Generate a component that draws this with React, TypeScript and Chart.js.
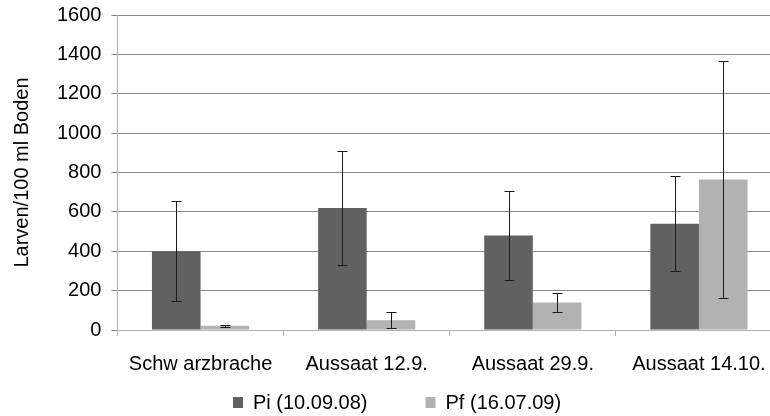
import React, { useEffect, useRef } from "react";
import { Chart, registerables } from "chart.js";

Chart.register(...registerables);

const categories = ["Schw arzbrache", "Aussaat 12.9.", "Aussaat 29.9.", "Aussaat 14.10."];
const piValues = [400, 620, 480, 540];
const piErrors = [253, 290, 224, 240];
const pfValues = [21, 50, 140, 765];
const pfErrors = [5, 40, 50, 600];
const seriesNames = ["Pi (10.09.08)", "Pf (16.07.09)"];
const yTicks = [0, 200, 400, 600, 800, 1000, 1200, 1400, 1600];
const yTitle = "Larven/100 ml Boden";

const FONT = "'Liberation Sans', Arial, sans-serif";
const FONT_SIZE = 20;

const errorBarPlugin = {
  id: "errorBars",
  afterDatasetsDraw(chart: any) {
    const ctx = chart.ctx;
    const y = chart.scales.y;
    ctx.save();
    ctx.strokeStyle = "#1a1a1a";
    ctx.lineWidth = 1;
    chart.data.datasets.forEach((ds: any, di: number) => {
      const meta = chart.getDatasetMeta(di);
      meta.data.forEach((bar: any, i: number) => {
        const v = ds.data[i];
        const e = ds.errors[i];
        const x = Math.round(bar.x) + 0.5;
        const yt = Math.round(y.getPixelForValue(v + e)) + 0.5;
        const yb = Math.round(y.getPixelForValue(v - e)) + 0.5;
        ctx.beginPath();
        ctx.moveTo(x, yt);
        ctx.lineTo(x, yb);
        ctx.moveTo(x - 5, yt);
        ctx.lineTo(x + 5, yt);
        ctx.moveTo(x - 5, yb);
        ctx.lineTo(x + 5, yb);
        ctx.stroke();
      });
    });
    ctx.restore();
  },
};

const legendPlugin = {
  id: "customLegend",
  afterDraw(chart: any) {
    const ctx = chart.ctx;
    ctx.save();
    ctx.font = `${FONT_SIZE}px ${FONT}`;
    ctx.textBaseline = "middle";
    ctx.textAlign = "left";
    const box = 10;
    const gapText = 10;
    const gapItem = 58;
    const items = chart.data.datasets.map((ds: any) => ({
      text: ds.label,
      color: ds.backgroundColor,
      w: box + gapText + ctx.measureText(ds.label).width,
    }));
    const total = items.reduce((s: number, it: any) => s + it.w, 0) + gapItem * (items.length - 1);
    let x = Math.round(chart.width / 2 + 2 - total / 2);
    const yc = chart.height - 13;
    items.forEach((it: any) => {
      ctx.fillStyle = it.color;
      ctx.fillRect(x, Math.round(yc - 6), box, box + 1);
      ctx.fillStyle = "#000";
      ctx.fillText(it.text, x + box + gapText, yc);
      x += it.w + gapItem;
    });
    ctx.restore();
  },
};

export default function App() {
  const ref = useRef<HTMLCanvasElement | null>(null);
  useEffect(() => {
    document.body.style.margin = "0";
    document.body.style.overflow = "hidden";
    const chart = new Chart(ref.current as HTMLCanvasElement, {
      type: "bar",
      data: {
        labels: categories,
        datasets: [
          { label: seriesNames[0], data: piValues, errors: piErrors, backgroundColor: "#616161", barPercentage: 1, categoryPercentage: 0.585 } as any,
          { label: seriesNames[1], data: pfValues, errors: pfErrors, backgroundColor: "#b2b2b2", barPercentage: 1, categoryPercentage: 0.585 } as any,
        ],
      },
      options: {
        animation: false,
        responsive: false,
        layout: { padding: { top: 0, right: 8, bottom: 24, left: 10 } },
        plugins: {
          legend: { display: false },
          tooltip: { enabled: false },
        },
        scales: {
          x: {
            grid: { drawOnChartArea: false, drawTicks: true, tickLength: 6, color: "#b0b0b0" },
            border: { color: "#b0b0b0" },
            ticks: { color: "#000", font: { family: FONT, size: FONT_SIZE }, padding: 16, maxRotation: 0, autoSkip: false },
          },
          y: {
            min: 0,
            max: 1600,
            afterBuildTicks: (axis: any) => {
              axis.ticks = yTicks.map((v) => ({ value: v }));
            },
            afterFit: (axis: any) => {
              axis.paddingTop = 15;
              axis.paddingBottom = 0;
            },
            grid: { color: "#888888", tickLength: 6 },
            border: { color: "#b0b0b0" },
            ticks: {
              color: "#000",
              font: { family: FONT, size: FONT_SIZE },
              padding: 10,
              callback: (v: any) => String(v),
            },
            title: {
              display: true,
              text: yTitle,
              color: "#000",
              font: { family: FONT, size: FONT_SIZE },
              padding: { top: 0, bottom: 13 },
            },
          },
        },
      },
      plugins: [errorBarPlugin, legendPlugin],
    });
    return () => chart.destroy();
  }, []);
  return (
    <div style={{ position: "fixed", left: 0, top: 0, width: 770, height: 416, overflow: "hidden" }}>
      <canvas ref={ref} width={790} height={416} style={{ display: "block", width: 790, height: 416 }} />
    </div>
  );
}
